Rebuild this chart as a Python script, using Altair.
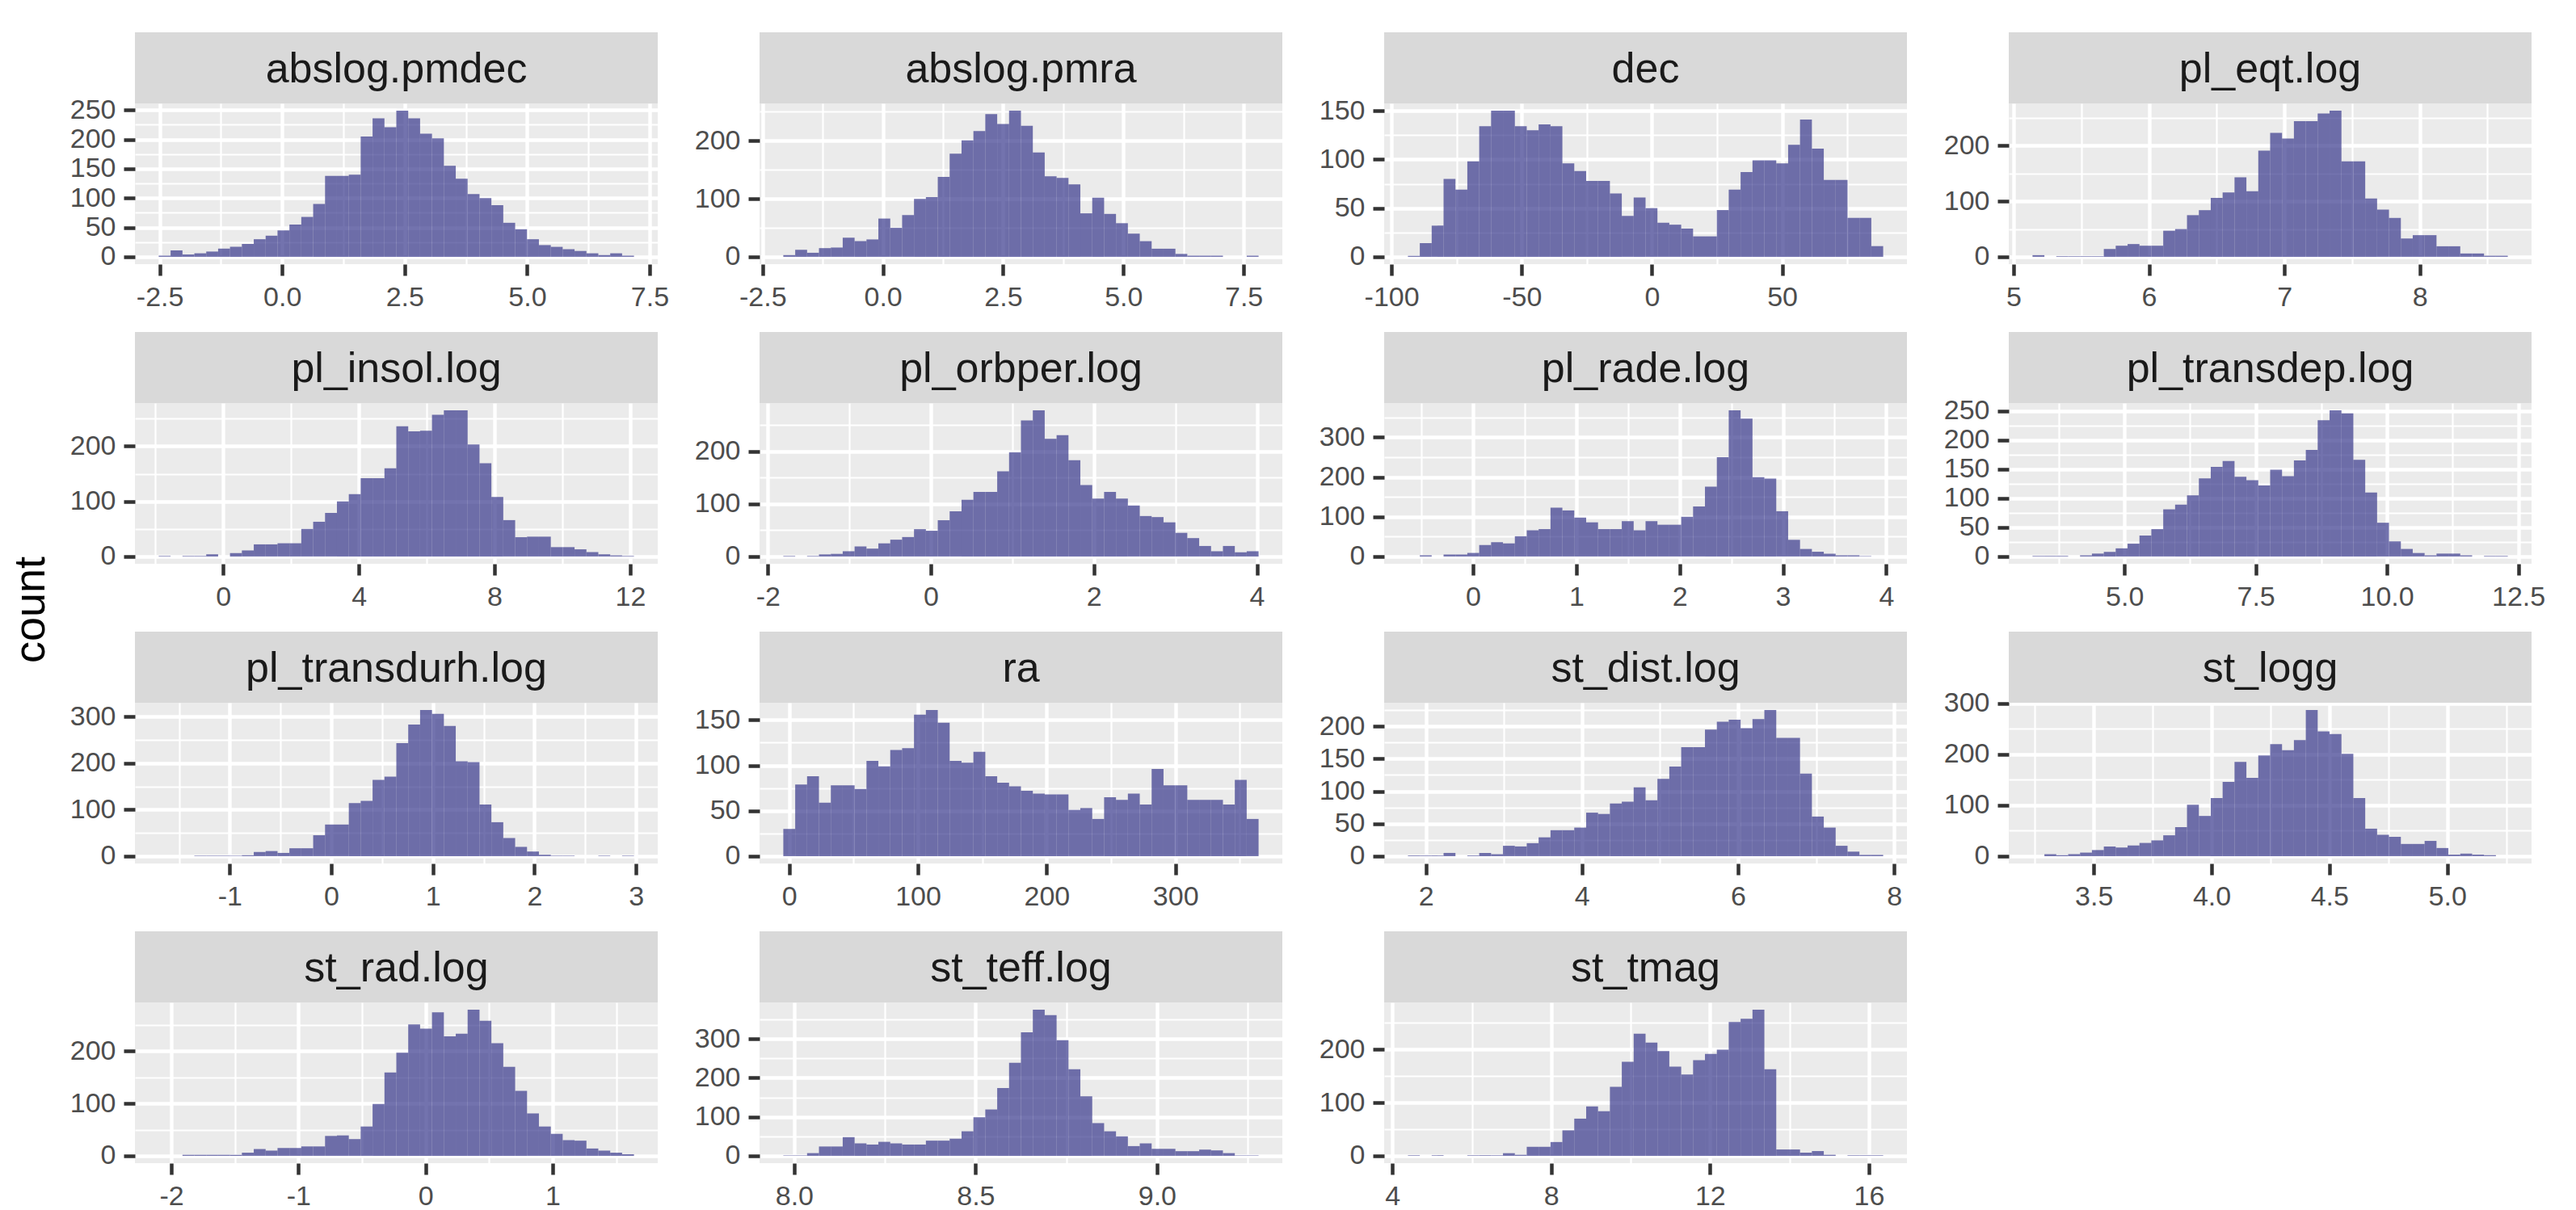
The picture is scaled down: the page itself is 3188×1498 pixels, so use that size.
import altair as alt
import pandas as pd

FONT = "Liberation Sans"

names = ["abslog.pmdec", "abslog.pmra", "dec", "pl_eqt.log", "pl_insol.log",
         "pl_orbper.log", "pl_rade.log", "pl_transdep.log", "pl_transdurh.log", "ra",
         "st_dist.log", "st_logg", "st_rad.log", "st_teff.log", "st_tmag"]

# range covered by the 40 histogram bins of each panel
bin_lo = [-2.52, -2.07, -93.7, 5.14, -1.90, -1.81, -0.63, 3.25, -1.70, -4.6, 1.77, 3.24, -2.10, 7.97, 4.39]
bin_hi = [7.18, 7.81, 88.8, 8.65, 12.11, 4.02, 3.97, 12.30, 2.98, 364.6, 7.86, 5.257, 1.64, 9.28, 16.36]

cnt_abslog_pmdec = [2, 11, 4, 6, 9, 14, 17, 22, 30, 36, 45, 55, 68, 90, 138, 138, 140, 205, 236, 221,
                    249, 236, 210, 202, 155, 133, 107, 100, 88, 58, 47, 30, 20, 17, 13, 10, 6, 3, 6, 2]
cnt_abslog_pmra = [3, 12, 7, 15, 16, 33, 27, 30, 66, 50, 72, 100, 103, 138, 178, 201, 217, 246, 229, 252,
                   226, 180, 139, 136, 125, 75, 102, 74, 58, 40, 27, 14, 14, 5, 2, 2, 2, 0, 0, 2]
cnt_dec = [1, 14, 32, 80, 69, 98, 134, 150, 150, 134, 130, 136, 134, 96, 88, 78, 78, 65, 42, 61,
           50, 35, 33, 29, 21, 21, 48, 69, 87, 99, 99, 96, 115, 141, 111, 79, 79, 40, 40, 11]
cnt_pl_eqt = [3, 0, 1, 1, 1, 1, 14, 20, 23, 20, 20, 47, 50, 75, 84, 106, 116, 143, 118, 191,
              223, 213, 244, 244, 258, 263, 172, 172, 105, 85, 70, 33, 39, 39, 19, 19, 6, 6, 2, 2]
cnt_pl_insol = [1, 0, 1, 1, 4, 0, 6, 11, 22, 22, 24, 24, 50, 63, 79, 100, 113, 142, 142, 160,
                236, 227, 228, 257, 265, 265, 203, 169, 108, 66, 35, 36, 36, 17, 17, 13, 8, 4, 2, 1]
cnt_pl_orbper = [1, 0, 1, 4, 5, 10, 19, 15, 25, 32, 37, 52, 49, 69, 86, 108, 123, 123, 162, 198,
                 259, 278, 224, 231, 183, 136, 110, 123, 110, 97, 77, 75, 65, 45, 35, 20, 10, 20, 8, 10]
cnt_pl_rade = [0, 3, 0, 5, 5, 9, 29, 36, 33, 51, 66, 69, 123, 116, 98, 86, 69, 69, 89, 66,
               89, 80, 80, 100, 126, 176, 250, 368, 347, 200, 196, 114, 42, 19, 12, 7, 3, 3, 1, 0]
cnt_pl_transdep = [1, 1, 1, 0, 2, 5, 8, 14, 22, 36, 47, 81, 89, 105, 134, 154, 164, 137, 131, 122,
                   149, 138, 165, 183, 234, 251, 246, 166, 110, 58, 26, 13, 6, 2, 5, 5, 2, 0, 1, 1]
cnt_pl_transdurh = [0, 0, 0, 1, 1, 1, 1, 2, 9, 11, 7, 17, 17, 45, 68, 68, 114, 119, 164, 171,
                    243, 283, 314, 306, 280, 204, 202, 111, 73, 39, 20, 10, 3, 1, 1, 0, 0, 1, 0, 1]
cnt_ra = [30, 79, 88, 59, 78, 78, 74, 105, 99, 117, 119, 156, 161, 147, 105, 103, 115, 88, 81, 77,
          72, 69, 68, 68, 51, 53, 41, 65, 62, 69, 57, 96, 78, 78, 62, 62, 62, 57, 84, 41]
cnt_st_dist = [1, 1, 1, 5, 0, 1, 5, 3, 16, 15, 20, 29, 40, 40, 44, 67, 65, 81, 84, 106,
               86, 119, 138, 168, 168, 195, 207, 210, 197, 211, 225, 182, 182, 127, 61, 44, 16, 7, 2, 2]
cnt_st_logg = [0, 4, 2, 4, 7, 12, 19, 17, 21, 26, 31, 41, 57, 101, 79, 114, 146, 185, 154, 198,
               220, 208, 228, 287, 245, 240, 201, 114, 54, 42, 38, 24, 24, 30, 16, 3, 5, 3, 2, 0]
cnt_st_rad = [0, 0, 2, 2, 2, 2, 2, 6, 13, 10, 15, 15, 18, 18, 38, 39, 32, 56, 99, 159,
              197, 251, 243, 274, 228, 233, 279, 258, 215, 170, 124, 81, 56, 42, 30, 29, 14, 10, 6, 3]
cnt_st_teff = [1, 1, 7, 24, 24, 48, 32, 29, 36, 32, 29, 29, 39, 39, 44, 63, 99, 119, 174, 239,
               317, 375, 361, 297, 222, 153, 84, 63, 50, 25, 32, 18, 18, 12, 12, 16, 14, 7, 1, 1]
cnt_st_tmag = [1, 0, 1, 0, 0, 1, 1, 1, 5, 2, 17, 17, 26, 48, 70, 93, 84, 130, 177, 230,
               213, 197, 168, 153, 180, 192, 200, 252, 258, 275, 163, 12, 12, 6, 9, 2, 0, 1, 1, 1]

counts = [cnt_abslog_pmdec, cnt_abslog_pmra, cnt_dec, cnt_pl_eqt, cnt_pl_insol, cnt_pl_orbper,
          cnt_pl_rade, cnt_pl_transdep, cnt_pl_transdurh, cnt_ra, cnt_st_dist, cnt_st_logg,
          cnt_st_rad, cnt_st_teff, cnt_st_tmag]

x_breaks = [[-2.5, 0, 2.5, 5, 7.5], [-2.5, 0, 2.5, 5, 7.5], [-100, -50, 0, 50], [5, 6, 7, 8],
            [0, 4, 8, 12], [-2, 0, 2, 4], [0, 1, 2, 3, 4], [5, 7.5, 10, 12.5], [-1, 0, 1, 2, 3],
            [0, 100, 200, 300], [2, 4, 6, 8], [3.5, 4, 4.5, 5], [-2, -1, 0, 1], [8, 8.5, 9],
            [4, 8, 12, 16]]
x_fmt = [".1f", ".1f", "d", "d", "d", "d", "d", ".1f", "d", "d", "d", ".1f", "d", ".1f", "d"]
y_breaks = [[0, 50, 100, 150, 200, 250], [0, 100, 200], [0, 50, 100, 150], [0, 100, 200],
            [0, 100, 200], [0, 100, 200], [0, 100, 200, 300], [0, 50, 100, 150, 200, 250],
            [0, 100, 200, 300], [0, 50, 100, 150], [0, 50, 100, 150, 200], [0, 100, 200, 300],
            [0, 100, 200], [0, 100, 200, 300], [0, 100, 200]]

NBINS = 40
W, PH, SH = 647, 199, 88
LABEL_FS = 34
BAR_FILL = "#38388B"


def minor_breaks(majors, dmin, dmax):
    step = majors[1] - majors[0]
    ext = [majors[0] - step] + list(majors) + [majors[-1] + step]
    mids = [(a + b) / 2 for a, b in zip(ext[:-1], ext[1:])]
    return [m for m in mids if dmin <= m <= dmax]


def make_axis(majors, dmin, dmax, fmt):
    maj = [float(v) for v in majors if dmin <= v <= dmax]
    mins = minor_breaks(majors, dmin, dmax)
    arr = "[" + ",".join(repr(v) for v in maj) + "]"
    test = f"indexof({arr}, datum.value) >= 0"
    return alt.Axis(
        values=maj + mins,
        title=None,
        domain=False,
        grid=True,
        gridColor="white",
        gridWidth={"condition": {"test": test, "value": 4.4}, "value": 2.2},
        ticks=True,
        tickSize=14,
        tickWidth=4.5,
        tickColor="#333333",
        tickOpacity={"condition": {"test": test, "value": 1}, "value": 0},
        labelExpr=f"{test} ? replace(format(datum.value, '{fmt}'), '\u2212', '-') : ''",
        labelFont=FONT,
        labelFontSize=LABEL_FS,
        labelColor="#4D4D4D",
        labelPadding=10,
        labelOverlap=False,
        labelFlush=False,
    )


panels = []
for k, name in enumerate(names):
    lo, hi = bin_lo[k], bin_hi[k]
    w = (hi - lo) / NBINS
    c = counts[k]
    df = pd.DataFrame({
        "x0": [lo + i * w for i in range(NBINS)],
        "x1": [lo + (i + 1) * w for i in range(NBINS)],
        "count": c,
    })
    xr = hi - lo
    xdom = [lo - 0.05 * xr, hi + 0.05 * xr]
    m = max(c)
    ydom = [-0.05 * m, 1.05 * m]

    hist = alt.Chart(df).mark_rect(fill=BAR_FILL, opacity=0.7, strokeWidth=0).encode(
        x=alt.X("x0:Q", scale=alt.Scale(domain=xdom, nice=False, zero=False),
                axis=make_axis(x_breaks[k], xdom[0], xdom[1], x_fmt[k])),
        x2="x1:Q",
        y=alt.Y("count:Q", scale=alt.Scale(domain=ydom, nice=False, zero=False),
                axis=make_axis(y_breaks[k], ydom[0], ydom[1], "d")),
        y2=alt.datum(0),
    )

    lab = pd.DataFrame({"label": [name]})
    strip_bg = alt.Chart(lab).mark_rect(color="#D9D9D9", strokeWidth=0).encode(
        x=alt.value(0), x2=alt.value(W), y=alt.value(-SH), y2=alt.value(0)
    )
    strip_txt = alt.Chart(lab).mark_text(
        font=FONT, fontSize=52, color="#1A1A1A", baseline="middle", align="center"
    ).encode(text="label:N", x=alt.value(W / 2), y=alt.value(-SH / 2 + 2))

    panels.append(
        alt.layer(strip_bg, strip_txt, hist).properties(
            width=W, height=PH, view=alt.ViewBackground(fill="#EBEBEB", strokeWidth=0)
        )
    )

chart = alt.concat(
    *panels, columns=4, spacing=alt.RowColnumber(row=84 + SH, column=126), bounds="flush"
).properties(
    title=alt.TitleParams("count", orient="left", anchor="middle", fontSize=54, font=FONT,
                          fontWeight="normal", color="black", offset=20, dx=14),
    padding={"left": 4, "top": 32, "right": 5, "bottom": 5},
).configure_view(strokeWidth=0).configure(background="white")

chart.save("out.html", embed_options={"renderer": "svg", "actions": False})
